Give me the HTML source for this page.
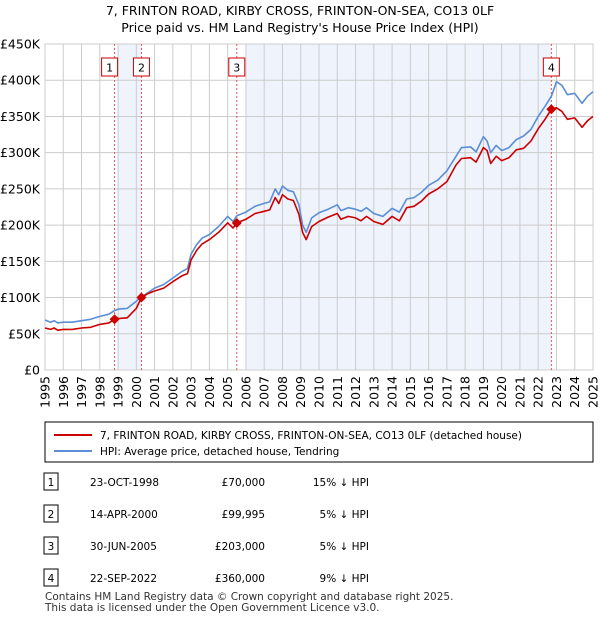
<!DOCTYPE html>
<html><head><meta charset="utf-8"><style>
body{margin:0;background:#fff;font-family:"Liberation Sans",sans-serif;}
svg text{font-family:"DejaVu Sans","Liberation Sans",sans-serif;}
</style></head><body>
<svg id="c" width="600" height="620" xmlns="http://www.w3.org/2000/svg">
<text x="300" y="15" text-anchor="middle" font-size="12.5">7, FRINTON ROAD, KIRBY CROSS, FRINTON-ON-SEA, CO13 0LF</text>
<text x="300" y="32" text-anchor="middle" font-size="12.5">Price paid vs. HM Land Registry's House Price Index (HPI)</text>
<g id="plot"></g>
<rect x="45" y="422" width="548" height="40" fill="#fff" stroke="#000" stroke-width="1"/>
<line x1="54" y1="435" x2="92" y2="435" stroke="#cc0000" stroke-width="2"/>
<text x="100" y="439" font-size="10.5">7, FRINTON ROAD, KIRBY CROSS, FRINTON-ON-SEA, CO13 0LF (detached house)</text>
<line x1="54" y1="451" x2="92" y2="451" stroke="#5b8ed6" stroke-width="2"/>
<text x="100" y="455" font-size="10.5">HPI: Average price, detached house, Tendring</text>
<g id="tbl" font-size="10.5"></g>
<text x="45" y="600" font-size="10.5" fill="#333">Contains HM Land Registry data © Crown copyright and database right 2025.</text>
<text x="45" y="611" font-size="10.5" fill="#333">This data is licensed under the Open Government Licence v3.0.</text>
</svg>
<script>
const years=[1995,1995.3,1995.5,1995.7,1996,1996.5,1997,1997.5,1998,1998.5,1998.8,1999,1999.5,2000,2000.28,2000.6,2001,2001.5,2002,2002.5,2002.8,2003,2003.3,2003.6,2004,2004.5,2005,2005.3,2005.5,2006,2006.5,2007,2007.3,2007.6,2007.8,2008,2008.3,2008.6,2008.9,2009.1,2009.3,2009.6,2010,2010.5,2011,2011.2,2011.6,2012,2012.3,2012.6,2013,2013.5,2014,2014.4,2014.8,2015.2,2015.6,2016,2016.5,2017,2017.5,2017.8,2018.3,2018.6,2019,2019.2,2019.4,2019.7,2020,2020.4,2020.8,2021.2,2021.6,2022,2022.4,2022.72,2023,2023.3,2023.6,2024,2024.4,2024.7,2025];
const hpi=[69,66,68,65,66,66,68,70,74,77,82,84,85,95,101,106,113,118,127,136,140,160,173,182,187,198,212,205,213,218,226,230,232,250,242,254,248,246,228,200,190,210,217,222,228,220,224,222,219,224,216,212,223,218,236,238,245,255,262,275,295,307,308,301,322,316,300,310,303,307,318,323,332,350,365,378,398,393,380,382,368,378,384];
const paid=[58,56,58,55,56,56,58,59,63,65,70,71,72,85,100,105,109,113,122,130,133,152,165,174,180,190,203,196,203,208,216,219,221,238,230,242,236,234,215,190,180,198,205,211,216,208,212,210,206,212,205,201,212,206,224,226,233,243,250,260,283,292,293,287,307,303,285,295,289,293,304,306,316,333,347,360,362,357,346,348,335,344,350];
const saleYears=[1998.81,2000.28,2005.5,2022.72];
const saleValues=[70,99.995,203,360];
const saleLabels=["1","2","3","4"];
const saleDates=["23-OCT-1998","14-APR-2000","30-JUN-2005","22-SEP-2022"];
const salePrices=["£70,000","£99,995","£203,000","£360,000"];
const saleDiffs=["15% ↓ HPI","5% ↓ HPI","5% ↓ HPI","9% ↓ HPI"];
const yTicks=[0,50,100,150,200,250,300,350,400,450];
const yTickLabels=["£0","£50K","£100K","£150K","£200K","£250K","£300K","£350K","£400K","£450K"];
const xTicks=[1995,1996,1997,1998,1999,2000,2001,2002,2003,2004,2005,2006,2007,2008,2009,2010,2011,2012,2013,2014,2015,2016,2017,2018,2019,2020,2021,2022,2023,2024,2025];

const NS="http://www.w3.org/2000/svg";
const X0=45,X1=593,Y0=370,Y1=44;
const x=v=>X0+(v-1995)/30*(X1-X0);
const y=v=>Y0-v/450*(Y0-Y1);
const g=document.getElementById('plot');
function mk(t,a,p){const e=document.createElementNS(NS,t);for(const k in a)e.setAttribute(k,a[k]);(p||g).appendChild(e);return e;}

let r=mk('rect',{x:x(1999),y:Y1,width:x(saleYears[1])-x(1999),height:Y0-Y1,fill:'#eef3fc'});


r=mk('rect',{x:x(2006),y:Y1,width:x(saleYears[3])-x(2006),height:Y0-Y1,fill:'#eef3fc'});



yTicks.forEach((v,i)=>{
 const l=mk('line',{x1:X0,x2:X1,y1:y(v),y2:y(v),stroke:'#cccccc'});
 
 
 const t=mk('text',{x:40,y:y(v)+4.5,'text-anchor':'end','font-size':12.5});
 t.textContent=yTickLabels[i];
 
 
});
xTicks.forEach(v=>{
 const l=mk('line',{x1:x(v),x2:x(v),y1:Y1,y2:Y0,stroke:'#cccccc'});
 
 
 const t=mk('text',{x:0,y:0,'font-size':12.5,'text-anchor':'end',transform:`translate(${x(v)+4.5},376) rotate(-90)`});
 t.textContent=v;
 
 
});
let ax=mk('rect',{x:X0,y:Y1,width:X1-X0,height:Y0-Y1,fill:'none',stroke:'#cccccc'});



saleYears.forEach((s,i)=>{
 const l=mk('line',{x1:x(s),x2:x(s),y1:Y1,y2:Y0,stroke:'#e05555','stroke-dasharray':'2,2'});
 
 
 const bx=x(s)-(i==0?5:0)-8;
 const b=mk('rect',{x:bx,y:58,width:16,height:18,fill:'#fff',stroke:'#cc0000'});
 
 
 const t=mk('text',{x:bx+8,y:71.5,'text-anchor':'middle','font-size':11});
 t.textContent=saleLabels[i];
 
 
});

function path(vals,col,name){
 const d=vals.map((v,i)=>(i?'L':'M')+x(years[i]).toFixed(1)+','+y(v).toFixed(1)).join('');
 const p=mk('path',{d:d,fill:'none',stroke:col,'stroke-width':1.6,'stroke-linejoin':'round'});
 
 
}
path(hpi,'#5b8ed6','hpi-line');
path(paid,'#cc0000','price-paid-line');
saleYears.forEach((s,i)=>{
 const cx=x(s),cy=y(saleValues[i]);
 const d=mk('path',{d:`M${cx-5},${cy}L${cx},${cy-5}L${cx+5},${cy}L${cx},${cy+5}Z`,fill:'#cc0000'});
 
 
});

const tb=document.getElementById('tbl');
saleLabels.forEach((lab,i)=>{
 const yy=482+i*32;
 const b=mk('rect',{x:44,y:yy-9,width:14,height:17,fill:'#fff',stroke:'#000'},tb);
 
 
 const cells=[[51,lab,'middle','row-number'],[90,saleDates[i],'start','row-date'],[265,salePrices[i],'end','row-price'],[369,saleDiffs[i],'end','row-hpi-diff']];
 cells.forEach(c=>{
  const t=mk('text',{x:c[0],y:yy+4,'text-anchor':c[2]},tb);
  t.textContent=c[1];
  
  
 });
});
</script>
</body></html>
